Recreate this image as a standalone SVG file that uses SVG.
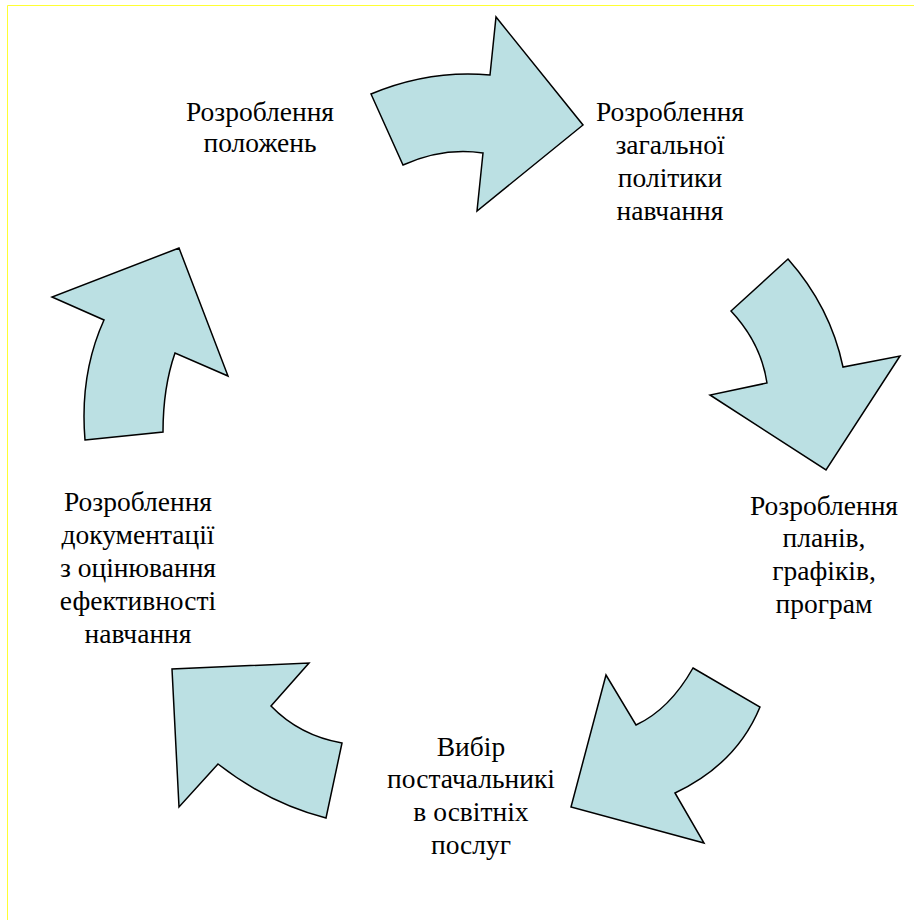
<svg xmlns="http://www.w3.org/2000/svg" width="914" height="920" viewBox="0 0 914 920">
<style>
.arrow{fill:#bbe0e3;stroke:#000;stroke-width:1.5;stroke-linejoin:miter}
.lbl{font-family:"Liberation Serif","Times New Roman",serif;font-size:27.5px;fill:#000;text-anchor:middle}
.frame{fill:none;stroke:#ffff33;stroke-width:1}
</style>
<rect width="914" height="920" fill="#fff"/>
<path class="frame" d="M7.5,920 V5.5 H914"/>
<g id="connectors">
<path id="arrow1" class="arrow" d="M371,94 Q429.5,69.5 490,75 L496,17 L583,125 L477,211 L483,153 Q443,147 403,165 Z"/>
<path id="arrow2" class="arrow" d="M731,311 L788,259 Q830.5,307 843,367 L900,356 L826,470 L710,395 L767,383 Q761,343 731,311 Z"/>
<path id="arrow3" class="arrow" d="M693,668 L760,707 Q736.5,764 675,793 L704,843 L571,807 L606,675 L636,725 Q669.5,709.5 693,668 Z"/>
<path id="arrow4" class="arrow" d="M342,743 L326,818 Q268,803 218,764 L179,807 L172,669 L309,663 L271,706 Q299.5,735.5 342,743 Z"/>
<path id="arrow5" class="arrow" d="M85,440 L163,432 Q163,387.5 175,353 L228,376 L179,248 L52,297 L104,320 Q79.5,374 85,440 Z"/>
</g>
<g id="node1">
<text class="lbl" x="260" y="121">Розроблення</text>
<text class="lbl" x="260" y="152">положень</text>
</g>
<g id="node2">
<text class="lbl" x="670" y="121">Розроблення</text>
<text class="lbl" x="670" y="154">загальної</text>
<text class="lbl" x="670" y="187">політики</text>
<text class="lbl" x="670" y="220">навчання</text>
</g>
<g id="node3">
<text class="lbl" x="824" y="515">Розроблення</text>
<text class="lbl" x="824" y="547">планів,</text>
<text class="lbl" x="824" y="580">графіків,</text>
<text class="lbl" x="824" y="613">програм</text>
</g>
<g id="node4">
<text class="lbl" x="471" y="756">Вибір</text>
<text class="lbl" x="471" y="788">постачальникі</text>
<text class="lbl" x="471" y="821">в освітніх</text>
<text class="lbl" x="471" y="854">послуг</text>
</g>
<g id="node5">
<text class="lbl" x="138" y="511">Розроблення</text>
<text class="lbl" x="138" y="544">документації</text>
<text class="lbl" x="138" y="577">з оцінювання</text>
<text class="lbl" x="138" y="610">ефективності</text>
<text class="lbl" x="138" y="643">навчання</text>
</g>
</svg>
